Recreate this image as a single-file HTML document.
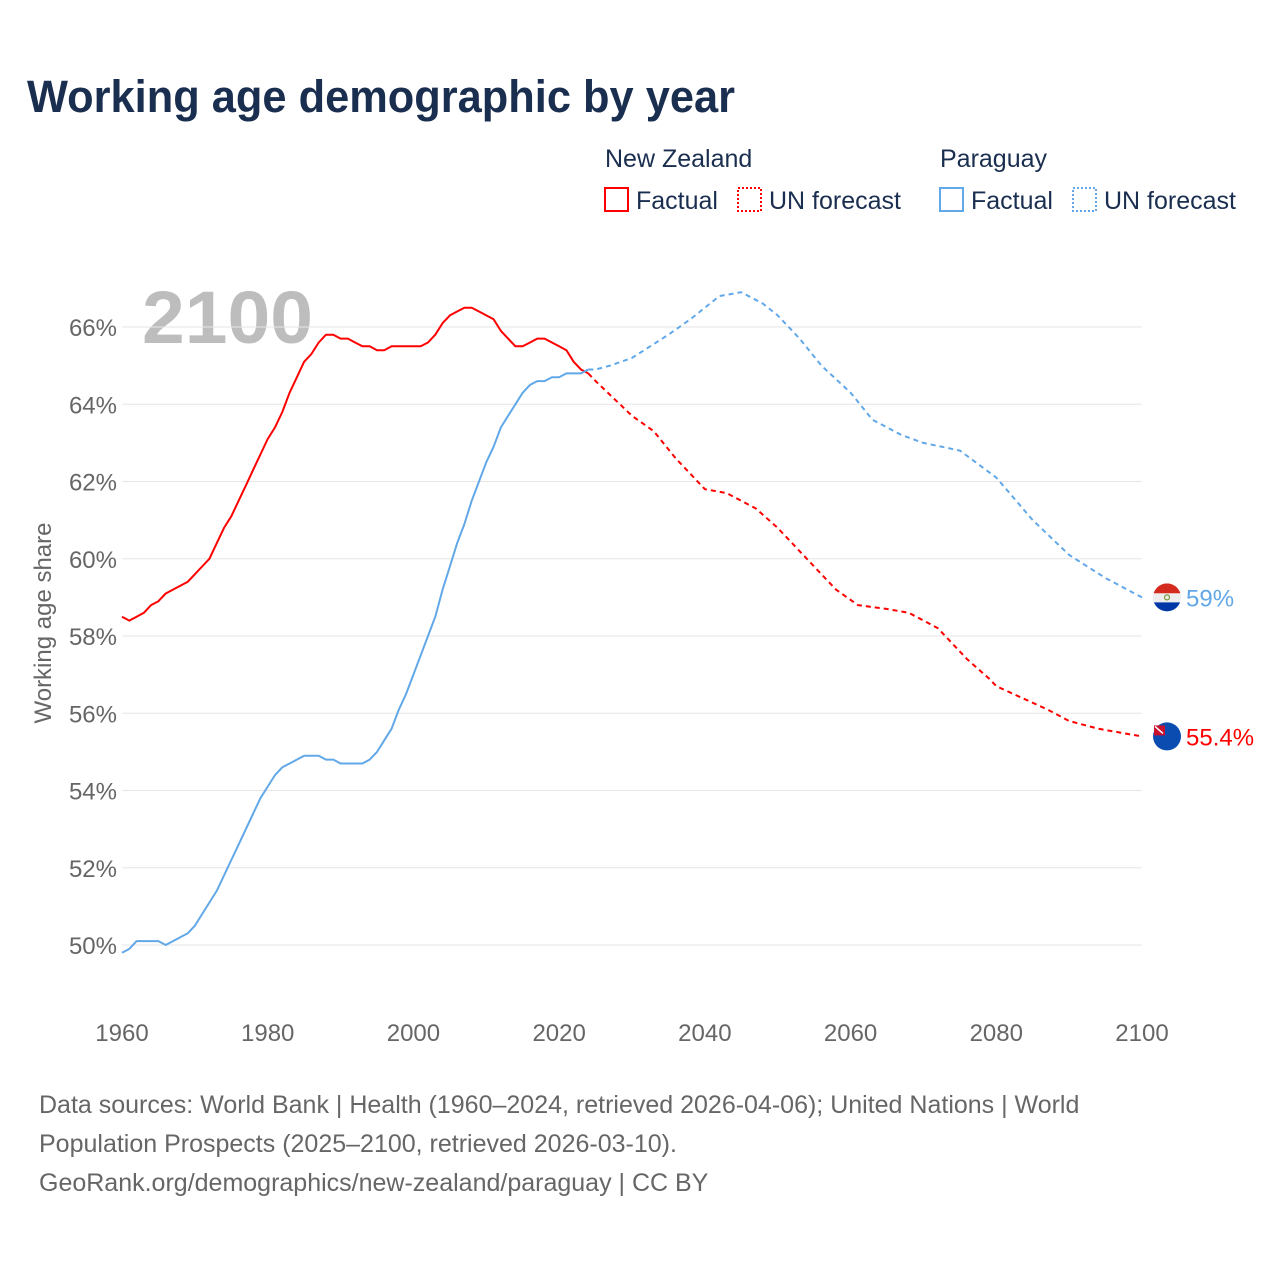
<!DOCTYPE html>
<html><head><meta charset="utf-8"><style>
body{margin:0;background:#fff;font-family:"Liberation Sans",sans-serif;}
</style></head><body>
<svg id="chart" width="1280" height="1280" viewBox="0 0 1280 1280" xmlns="http://www.w3.org/2000/svg" font-family="Liberation Sans, sans-serif">
<rect width="1280" height="1280" fill="#fff"/>
<text x="27" y="112" font-size="45" font-weight="bold" fill="#1a2e4f" textLength="708" lengthAdjust="spacingAndGlyphs">Working age demographic by year</text>
<g font-size="25" fill="#1a2e4f">
<text x="605" y="167">New Zealand</text>
<text x="940" y="167">Paraguay</text>
<g><rect x="605" y="188" width="23" height="23" fill="none" stroke="#f00" stroke-width="2"/><text x="636" y="209">Factual</text></g>
<g><rect x="738" y="188" width="23" height="23" fill="none" stroke="#f00" stroke-width="2" stroke-dasharray="2,2"/><text x="769" y="209">UN forecast</text></g>
<g><rect x="940" y="188" width="23" height="23" fill="none" stroke="#62a8e8" stroke-width="2"/><text x="971" y="209">Factual</text></g>
<g><rect x="1073" y="188" width="23" height="23" fill="none" stroke="#62a8e8" stroke-width="2" stroke-dasharray="2,2"/><text x="1104" y="209">UN forecast</text></g>
</g>
<text x="142" y="343" font-size="74" font-weight="bold" fill="#bdbdbd" textLength="171" lengthAdjust="spacingAndGlyphs">2100</text>
<g id="grid"></g><g id="lines"></g>
<text transform="translate(51,623) rotate(-90)" text-anchor="middle" font-size="24" fill="#666">Working age share</text>
<g font-size="25" fill="#666">
<text x="39" y="1113">Data sources: World Bank | Health (1960–2024, retrieved 2026-04-06); United Nations | World</text>
<text x="39" y="1152">Population Prospects (2025–2100, retrieved 2026-03-10).</text>
<text x="39" y="1191">GeoRank.org/demographics/new-zealand/paraguay | CC BY</text>
</g>
</svg>
<script>
const nzYears=[];for(let y=1960;y<=2024;y++)nzYears.push(y);
const nzFactual=[58.5,58.4,58.5,58.6,58.8,58.9,59.1,59.2,59.3,59.4,59.6,59.8,60.0,60.4,60.8,61.1,61.5,61.9,62.3,62.7,63.1,63.4,63.8,64.3,64.7,65.1,65.3,65.6,65.8,65.8,65.7,65.7,65.6,65.5,65.5,65.4,65.4,65.5,65.5,65.5,65.5,65.5,65.6,65.8,66.1,66.3,66.4,66.5,66.5,66.4,66.3,66.2,65.9,65.7,65.5,65.5,65.6,65.7,65.7,65.6,65.5,65.4,65.1,64.9,64.8];
const nzForecastYears=[2024,2025,2030,2033,2036,2040,2043,2047,2050,2055,2058,2061,2065,2068,2072,2076,2079,2080,2087,2090,2094,2097,2100];
const nzForecast=[64.8,64.6,63.7,63.3,62.6,61.8,61.7,61.3,60.8,59.8,59.2,58.8,58.7,58.6,58.2,57.4,56.9,56.7,56.1,55.8,55.6,55.5,55.4];
const pyFactual=[49.8,49.9,50.1,50.1,50.1,50.1,50.0,50.1,50.2,50.3,50.5,50.8,51.1,51.4,51.8,52.2,52.6,53.0,53.4,53.8,54.1,54.4,54.6,54.7,54.8,54.9,54.9,54.9,54.8,54.8,54.7,54.7,54.7,54.7,54.8,55.0,55.3,55.6,56.1,56.5,57.0,57.5,58.0,58.5,59.2,59.8,60.4,60.9,61.5,62.0,62.5,62.9,63.4,63.7,64.0,64.3,64.5,64.6,64.6,64.7,64.7,64.8,64.8,64.8,64.9];
const pyForecastYears=[2024,2025,2027,2030,2035,2038,2040,2042,2045,2048,2050,2053,2056,2060,2063,2067,2070,2075,2080,2085,2090,2095,2100];
const pyForecast=[64.9,64.9,65.0,65.2,65.8,66.2,66.5,66.8,66.9,66.6,66.3,65.7,65.0,64.3,63.6,63.2,63.0,62.8,62.1,61.0,60.1,59.5,59.0];
const yTicks=[50,52,54,56,58,60,62,64,66];
const xTicks=[1960,1980,2000,2020,2040,2060,2080,2100];
const NS="http://www.w3.org/2000/svg";
const xS=y=>122+(y-1960)*1020/140;
const yS=v=>945-(v-50)*38.625;
function mk(tag,attrs,parent,text){const e=document.createElementNS(NS,tag);for(const k in attrs)e.setAttribute(k,attrs[k]);if(text!==undefined)e.textContent=text;parent.appendChild(e);return e;}
const grid=document.getElementById('grid'),lines=document.getElementById('lines');
yTicks.forEach(t=>{
 const l=mk('line',{x1:122,x2:1142,y1:yS(t),y2:yS(t),stroke:'#e6e6e6','stroke-width':1},grid);
 
 
 const tx=mk('text',{x:117,y:yS(t)+9,'text-anchor':'end','font-size':24,fill:'#666'},grid,t+'%');
 
 
});
xTicks.forEach(t=>{
 const tx=mk('text',{x:xS(t),y:1041,'text-anchor':'middle','font-size':24,fill:'#666'},grid,String(t));
 
 
});
function path(xs,vs,color,dash,name){
 const d=xs.map((x,i)=>(i?'L':'M')+xS(x).toFixed(1)+','+yS(vs[i]).toFixed(1)).join(' ');
 const p=mk('path',{d:d,fill:'none',stroke:color,'stroke-width':2,'stroke-dasharray':dash||'none','stroke-linejoin':'round'},lines);
 
 
}
path(nzYears,nzFactual,'#f00',null,'nz-factual-line');
path(nzForecastYears,nzForecast,'#f00','5,4','nz-forecast-line');
path(nzYears,pyFactual,'#62a8e8',null,'py-factual-line');
path(pyForecastYears,pyForecast,'#62a8e8','5,4','py-forecast-line');
const pyEnd=pyForecast[pyForecast.length-1],nzEnd=nzForecast[nzForecast.length-1];
const pyG=mk('g',{},lines);


const cx=1167,pyY=yS(pyEnd);
mk('clipPath',{id:'cpy'},pyG);mk('circle',{cx:cx,cy:pyY,r:14},pyG.lastChild);
const pc=mk('g',{'clip-path':'url(#cpy)'},pyG);
mk('rect',{x:cx-14,y:pyY-14,width:28,height:10,fill:'#d52b1e'},pc);
mk('rect',{x:cx-14,y:pyY-4,width:28,height:9,fill:'#eee'},pc);
mk('rect',{x:cx-14,y:pyY+5,width:28,height:10,fill:'#0038a8'},pc);
mk('circle',{cx:cx,cy:pyY,r:2.5,fill:'none',stroke:'#7a9a3a','stroke-width':1.2},pyG);
const pl=mk('text',{x:1186,y:pyY+9,'font-size':24,fill:'#62a8e8'},pyG,pyEnd+'%');


const nzG=mk('g',{},lines);


const nzY=yS(nzEnd);
mk('circle',{cx:cx,cy:nzY,r:14,fill:'#0a4cb0'},nzG);
mk('rect',{x:cx-13,y:nzY-11,width:11,height:10,fill:'#c8102e'},nzG);
mk('line',{x1:cx-12,y1:nzY-10,x2:cx-4,y2:nzY-3,stroke:'#fff','stroke-width':1.5},nzG);
const nl=mk('text',{x:1186,y:nzY+9,'font-size':24,fill:'#f00'},nzG,nzEnd+'%');


</script>
</body></html>
